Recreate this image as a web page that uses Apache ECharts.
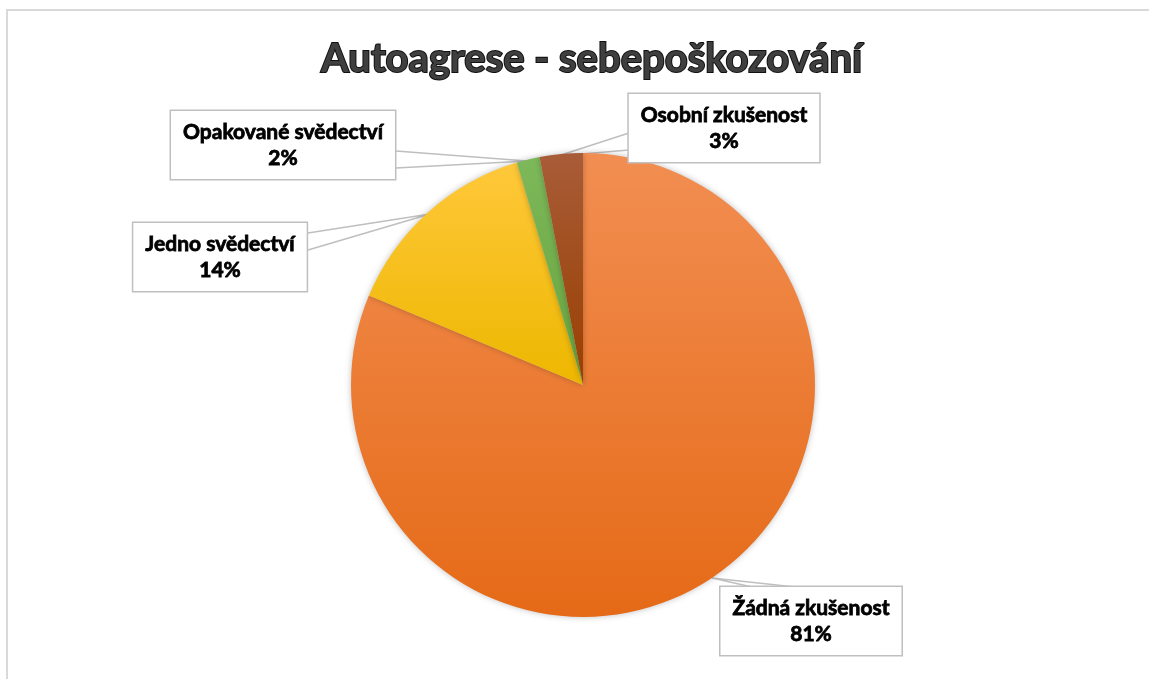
<!DOCTYPE html>
<html>
<head>
<meta charset="utf-8">
<script src="https://cdn.jsdelivr.net/npm/echarts@6/dist/echarts.min.js"></script>
<style>
  html, body { margin: 0; padding: 0; background: #fff; }
  #chart { width: 1149px; height: 679px; }
</style>
</head>
<body>
<div id="chart"></div>
<script>
// data, clockwise from 12 o'clock
var categories = ['Žádná zkušenost', 'Jedno svědectví', 'Opakované svědectví', 'Osobní zkušenost']
var shares = [81.3, 14.1, 1.6, 3.0]
var shownPct = ['81%', '14%', '2%', '3%']

var colorsTop = ['#F28E52', '#FFC83A', '#7DB85A', '#A85C38']
var colorsBottom = ['#E56A17', '#EDB700', '#68A43E', '#9A3F00']

// label boxes: centre of box + callout wedge points
var boxes = [
  { x: 811, y: 621, line: [[752, 587], [712, 578], [795, 587]] },
  { x: 220, y: 257, line: [[308, 233], [430, 214], [308, 250]] },
  { x: 283, y: 145, line: [[396, 151], [527, 161], [396, 168]] },
  { x: 724, y: 128, line: [[629, 133], [558, 156], [629, 150]] }
]

var chart = echarts.init(document.getElementById('chart'))

var pieData = []
for (var i = 0; i < categories.length; i++) {
  pieData.push({
    name: categories[i],
    value: shares[i],
    itemStyle: {
      color: new echarts.graphic.LinearGradient(0, 0, 0, 1, [
        { offset: 0, color: colorsTop[i] },
        { offset: 1, color: colorsBottom[i] }
      ])
    }
  })
}

var option = {
  backgroundColor: '#fff',
  title: {
    text: 'Autoagrese - sebepoškozování',
    left: 316,
    top: 34,
    textStyle: {
      fontFamily: 'Lato',
      fontWeight: 'bold',
      fontSize: 40,
      color: '#3f3f3f',
      textBorderColor: '#111',
      textBorderWidth: 2
    }
  },
  graphic: [{
    type: 'rect',
    shape: { x: 7, y: 10, width: 1200, height: 700 },
    style: { fill: 'none', stroke: '#d9d9d9', lineWidth: 2 },
    silent: true
  }],
  series: [{
    type: 'pie',
    center: [583, 385],
    radius: 232,
    startAngle: 90,
    clockwise: true,
    data: pieData,
    itemStyle: {
      shadowBlur: 6,
      shadowColor: 'rgba(0,0,0,0.25)'
    },
    emphasis: { disabled: true },
    label: {
      show: true,
      formatter: function (p) {
        return p.name + '\n' + shownPct[p.dataIndex]
      },
      fontFamily: 'Lato',
      fontWeight: 'bold',
      fontSize: 21,
      lineHeight: 26,
      color: '#000',
      textBorderColor: '#000',
      textBorderWidth: 0.8,
      align: 'center',
      backgroundColor: '#fff',
      borderColor: '#bfbfbf',
      borderWidth: 1.5,
      padding: [8, 12]
    },
    labelLine: {
      show: true,
      lineStyle: { color: '#bfbfbf', width: 1.5 }
    },
    labelLayout: function (params) {
      var b = boxes[params.dataIndex]
      return {
        x: b.x,
        y: b.y,
        align: 'center',
        verticalAlign: 'middle',
        labelLinePoints: b.line
      }
    }
  }]
}

chart.setOption(option)
</script>
</body>
</html>
